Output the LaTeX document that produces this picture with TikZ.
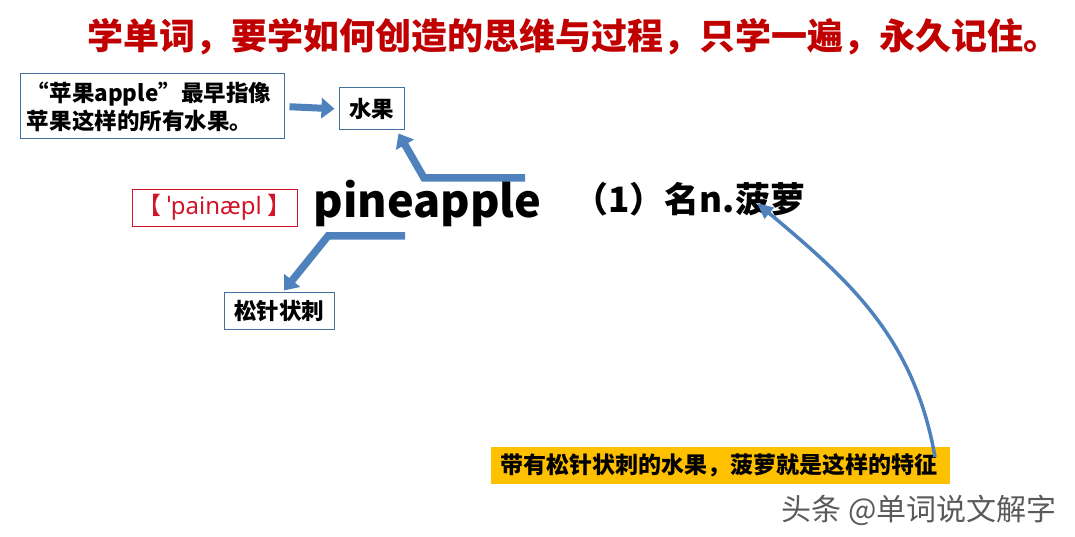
\documentclass[tikz,border=0pt]{standalone}
\usepackage{fontspec}
\setmainfont{Noto Sans CJK SC}
\newfontfamily\ipafont{Noto Sans}
\usetikzlibrary{arrows.meta}
\definecolor{titlered}{RGB}{192,0,0}
\definecolor{phonred}{RGB}{210,20,40}
\definecolor{boxblue}{RGB}{65,113,156}
\definecolor{arrowblue}{RGB}{79,129,189}
\definecolor{tagyellow}{RGB}{255,192,0}
\definecolor{markgray}{RGB}{90,90,90}
\tikzset{
  wordbox/.style={draw=boxblue,line width=1pt,inner sep=0pt,font=\fontsize{22.5}{28}\selectfont\bfseries},
  blockarrow/.style={arrowblue,line width=7.5pt,line join=miter,-{Triangle[width=20pt,length=13pt]}},
  curvearrow/.style={arrowblue,line width=3.5pt,-{Triangle[width=14pt,length=16pt]}},
}
\begin{document}
\begin{tikzpicture}[x=1pt,y=1pt]
\useasboundingbox (0,0) rectangle (1075,537);

\node[titlered,font=\fontsize{36}{40}\selectfont\bfseries] (title) at (573,500) {学单词，要学如何创造的思维与过程，只学一遍，永久记住。};

\node[wordbox,minimum width=264pt,minimum height=65pt,align=left,text width=250pt] (apple) at (152,430.5) {“苹果apple”最早指像\\苹果这样的所有水果。};
\node[wordbox,minimum width=65pt,minimum height=42pt] (fruit) at (371.5,428) {水果};

\node[draw=phonred,line width=0.8pt,minimum width=165pt,minimum height=37pt,inner sep=0pt,phonred,font=\fontsize{24}{28}\selectfont] (phon) at (214.5,329.5) {【 {\ipafont ˈpainæpl} 】};
\node[anchor=base,font=\fontsize{45}{50}\selectfont\bfseries] (word) at (427.5,319) {pineapple};
\node[anchor=base west,font=\fontsize{35}{40}\selectfont\bfseries] (meaning) at (570,324) {（1）名n.菠萝};

\node[wordbox,minimum width=110pt,minimum height=37pt] (spike) at (279,225.5) {松针状刺};

\node[fill=tagyellow,minimum width=459pt,minimum height=37pt,text width=441pt,inner xsep=9pt,inner ysep=0pt,align=left,font=\fontsize{23}{27}\selectfont\bfseries] (feature) at (720.5,71.5) {带有松针状刺的水果，菠萝就是这样的特征};

\node[markgray,font=\fontsize{30}{34}\selectfont] (mark) at (919,27) {头条 @单词说文解字};

\coordinate (bar1) at (525,359);
\coordinate (bend1) at (424,359);
\coordinate (bar2) at (405,301);
\coordinate (bend2) at (328,301);
\coordinate (tail) at (935,80);
\coordinate (pinetip) at (757,334);

\draw[blockarrow,line width=7pt,shorten <=5pt,shorten >=4pt] (apple.east) -- (fruit.west);
\draw[blockarrow] (bar1) -- (bend1) -- ([xshift=-6pt,yshift=-3pt]fruit.south east);
\draw[blockarrow] (bar2) -- (bend2) -- ([xshift=5pt,yshift=2pt]spike.north);
\draw[curvearrow] (tail) to[out=100,in=-40] (pinetip);
\end{tikzpicture}
\end{document}
